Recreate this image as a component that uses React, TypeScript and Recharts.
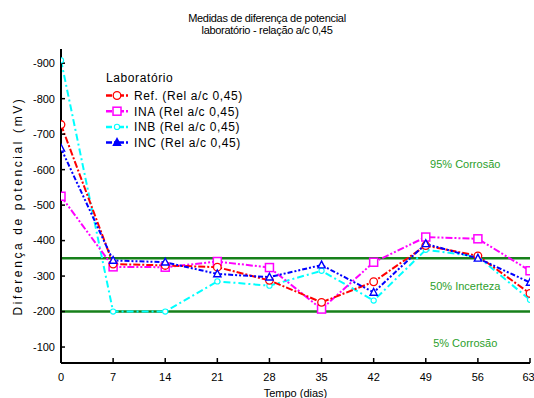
import React from 'react';
import { LineChart, Line, XAxis, YAxis, ReferenceLine, ReferenceDot, Legend, Label } from 'recharts';

const FONT = '"Liberation Sans", Arial, sans-serif';

const days = [0, 7, 14, 21, 28, 35, 42, 49, 56, 63];
const refValues = [-727, -334, -330, -325, -288, -226, -284, -386, -357, -251];
const inaValues = [-525, -326, -325, -341, -324, -207, -339, -410, -405, -315];
const inbValues = [-908, -200, -200, -285, -273, -315, -231, -374, -355, -233];
const incValues = [-660, -344, -339, -306, -297, -331, -254, -391, -350, -282];

const yTicks = [-900, -800, -700, -600, -500, -400, -300, -200, -100];
const thresholds = [-350, -200];
const zoneLabels = [
  { text: '95% Corrosão', day: 54.3, value: -617 },
  { text: '50% Incerteza', day: 54.3, value: -273 },
  { text: '5% Corrosão', day: 54.3, value: -112 },
];

const titleLines = ['Medidas de diferença de potencial', 'laboratório - relação a/c 0,45'];
const legendTitle = 'Laboratório';

type MarkerType = 'circle' | 'square' | 'smallCircle' | 'triangle';

const series: { key: string; name: string; color: string; dash: string; marker: MarkerType }[] = [
  { key: 'ref', name: 'Ref. (Rel a/c 0,45)', color: '#ff0000', dash: '7 2 2 2', marker: 'circle' },
  { key: 'ina', name: 'INA (Rel a/c 0,45)', color: '#ff00ff', dash: '7 2 2 2 2 2', marker: 'square' },
  { key: 'inb', name: 'INB (Rel a/c 0,45)', color: '#00ffff', dash: '7 3 2 3', marker: 'smallCircle' },
  { key: 'inc', name: 'INC (Rel a/c 0,45)', color: '#0000ff', dash: '5 2 2 2 2 2', marker: 'triangle' },
];
const drawOrder = ['inb', 'ina', 'ref', 'inc'];

const data = days.map((d, i) => ({
  day: d,
  ref: refValues[i],
  ina: inaValues[i],
  inb: inbValues[i],
  inc: incValues[i],
}));

function Marker({ type, cx, cy, color, filled }: { type: MarkerType; cx: number; cy: number; color: string; filled?: boolean }) {
  const fill = filled ? color : '#ffffff';
  if (type === 'circle') return <circle cx={cx} cy={cy} r={3.8} fill={fill} stroke={color} strokeWidth={1.3} />;
  if (type === 'square') return <rect x={cx - 4} y={cy - 4} width={8} height={8} fill={fill} stroke={color} strokeWidth={1.5} />;
  if (type === 'smallCircle') return <circle cx={cx} cy={cy} r={2.6} fill={fill} stroke={color} strokeWidth={1.1} />;
  return (
    <polygon
      points={`${cx},${cy - 4} ${cx - 3.6},${cy + 2.8} ${cx + 3.6},${cy + 2.8}`}
      fill={fill}
      stroke={color}
      strokeWidth={1.4}
    />
  );
}

const makeDot = (type: MarkerType, color: string) => (props: any) => {
  const { cx, cy, index } = props;
  const k = `${type}-${index}`;
  if (cx == null || cy == null) return <g key={k} />;
  return (
    <g key={k}>
      <Marker type={type} cx={cx} cy={cy} color={color} />
    </g>
  );
};

function LegendBox() {
  return (
    <svg width={170} height={90} style={{ overflow: 'visible' }}>
      <text x={6} y={14} fontSize={12} fontFamily={FONT} fill="#000" letterSpacing={0.6}>
        {legendTitle}
      </text>
      {series.map((s, i) => {
        const cy = 27.5 + i * 15.7;
        return (
          <g key={s.key}>
            <line x1={6} x2={28} y1={cy} y2={cy} stroke={s.color} strokeWidth={2.5} strokeDasharray="6 2 2 2" />
            <Marker type={s.marker} cx={17} cy={cy} color={s.color} filled={s.marker === 'triangle'} />
            <text x={34} y={cy + 4.5} fontSize={12} fontFamily={FONT} fill="#000" letterSpacing={0.6}>
              {s.name}
            </text>
          </g>
        );
      })}
    </svg>
  );
}

export default function App() {
  const axisLine = { stroke: '#000', strokeWidth: 2 };
  const tickStyle = { fill: '#000', fontSize: 11, fontFamily: FONT };
  return (
    <div style={{ position: 'absolute', left: 0, top: 0, width: 534, height: 398, background: '#fff' }}>
      {titleLines.map((t, i) => (
        <div
          key={i}
          style={{
            position: 'absolute',
            left: 0,
            width: 534,
            top: 12 + i * 12,
            textAlign: 'center',
            fontFamily: FONT,
            fontSize: 11,
            lineHeight: '13px',
            letterSpacing: -0.3,
            color: '#000',
          }}
        >
          {t}
        </div>
      ))}
      <LineChart width={534} height={398} data={data} margin={{ top: 49, right: 4, bottom: 0, left: 0 }}>
        <XAxis
          xAxisId="bottom"
          dataKey="day"
          type="number"
          domain={[0, 63]}
          ticks={days}
          height={35}
          tickSize={-5}
          tickMargin={15}
          axisLine={axisLine}
          tickLine={{ stroke: '#000', strokeWidth: 1.5 }}
          tick={tickStyle}
          allowDataOverflow
        >
          <Label
            content={(props: any) => {
              const vb = props.viewBox;
              const x = vb.x + vb.width / 2;
              const y = vb.y + 30;
              return (
                <text x={x} y={y} textAnchor="middle" dominantBaseline="central" fontSize={11} fontFamily={FONT} fill="#000">
                  Tempo (dias)
                </text>
              );
            }}
          />
        </XAxis>
        <XAxis
          xAxisId="top"
          dataKey="day"
          type="number"
          orientation="top"
          domain={[0, 63]}
          ticks={days}
          height={0}
          tickSize={-5}
          tickFormatter={() => ''}
          axisLine={axisLine}
          tickLine={{ stroke: '#000', strokeWidth: 1.5 }}
          allowDataOverflow
        />
        <YAxis
          yAxisId="left"
          type="number"
          domain={[-940, -55]}
          reversed
          ticks={yTicks}
          width={61}
          tickSize={-4}
          tickMargin={10}
          axisLine={axisLine}
          tickLine={{ stroke: '#000', strokeWidth: 1.5 }}
          tick={tickStyle}
          allowDataOverflow
        >
          <Label
            content={(props: any) => {
              const vb = props.viewBox;
              const x = vb.x + 18;
              const y = vb.y + vb.height / 2;
              return (
                <text
                  x={x}
                  y={y}
                  transform={`rotate(-90 ${x} ${y})`}
                  textAnchor="middle"
                  dominantBaseline="central"
                  fontSize={12}
                  letterSpacing={2.6}
                  fontFamily={FONT}
                  fill="#000"
                >
                  Diferença de potencial (mV)
                </text>
              );
            }}
          />
        </YAxis>
        <YAxis
          yAxisId="right"
          orientation="right"
          type="number"
          domain={[-940, -55]}
          reversed
          ticks={yTicks}
          width={0}
          tickSize={-4}
          tickFormatter={() => ''}
          axisLine={axisLine}
          tickLine={{ stroke: '#000', strokeWidth: 1.5 }}
          allowDataOverflow
        />
        {thresholds.map((v) => (
          <ReferenceLine key={v} xAxisId="bottom" yAxisId="left" y={v} stroke="#17801a" strokeWidth={2.5} />
        ))}
        {zoneLabels.map((z) => (
          <ReferenceDot
            key={z.text}
            xAxisId="bottom"
            yAxisId="left"
            x={z.day}
            y={z.value}
            r={0}
            fill="none"
            stroke="none"
            label={{ value: z.text, position: 'center', fill: '#2ca02c', fontSize: 11, fontFamily: FONT }}
          />
        ))}
        {drawOrder.map((k) => {
          const s = series.find((q) => q.key === k)!;
          return (
            <Line
              key={s.key}
              xAxisId="bottom"
              yAxisId="left"
              dataKey={s.key}
              name={s.name}
              type="linear"
              stroke={s.color}
              strokeWidth={2}
              strokeDasharray={s.dash}
              dot={makeDot(s.marker, s.color)}
              activeDot={false}
              isAnimationActive={false}
            />
          );
        })}
        <Legend
          layout="vertical"
          align="center"
          verticalAlign="middle"
          content={() => <LegendBox />}
          wrapperStyle={{ position: 'absolute', left: 100, top: 68, width: 170, height: 90 }}
        />
      </LineChart>
    </div>
  );
}
